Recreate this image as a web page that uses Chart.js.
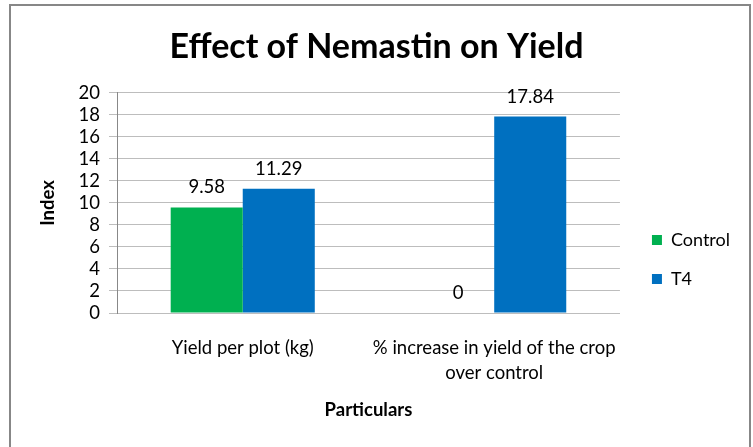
<!DOCTYPE html>
<html>
<head>
<meta charset="utf-8">
<script src="https://cdn.jsdelivr.net/npm/chart.js@4/dist/chart.umd.min.js"></script>
<style>
  html, body { margin: 0; padding: 0; background: #fff; }
  #wrap { width: 753px; height: 447px; }
</style>
</head>
<body>
<div id="wrap"><canvas id="chart" width="753" height="447"></canvas></div>
<script>
const categories = [
  "Yield per plot (kg)",
  ["% increase in yield of the crop", "over control"],
];
const controlValues = [9.58, 0];
const t4Values = [11.29, 17.84];
const yTicks = [0, 20, 2]; // min, max, step

const FONT = "Lato, 'Open Sans', sans-serif";
const TXT = 18.5;

// outer frame like the Excel chart border
const framePlugin = {
  id: "frame",
  afterDraw(chart) {
    const ctx = chart.ctx;
    ctx.save();
    ctx.strokeStyle = "#878787";
    ctx.lineWidth = 2;
    ctx.strokeRect(10, 5, 740, 460);
    ctx.restore();
  },
};

// value labels above each bar
const barLabels = {
  id: "barLabels",
  afterDatasetsDraw(chart) {
    const ctx = chart.ctx;
    ctx.save();
    ctx.font = TXT + "px " + FONT;
    ctx.fillStyle = "#000";
    ctx.textAlign = "center";
    ctx.textBaseline = "middle";
    chart.data.datasets.forEach((ds, i) => {
      chart.getDatasetMeta(i).data.forEach((bar, j) => {
        ctx.fillText(String(ds.data[j]), bar.x, bar.y - 20);
      });
    });
    ctx.restore();
  },
};

// nudge legend and title so they sit where Excel put them
const boxNudge = {
  id: "boxNudge",
  afterLayout(chart) {
    const lg = chart.legend;
    lg.left += 11; lg.right += 11;
    lg.top += 36; lg.bottom += 36;
    const tb = chart.titleBlock;
    tb.left += 12; tb.right += 12;
  },
};

new Chart(document.getElementById("chart"), {
  type: "bar",
  data: {
    labels: categories,
    datasets: [
      { label: "Control", data: controlValues, backgroundColor: "#00B050" },
      { label: "T4", data: t4Values, backgroundColor: "#0070C0" },
    ],
  },
  plugins: [framePlugin, barLabels, boxNudge],
  options: {
    responsive: false,
    animation: false,
    layout: { padding: { right: 24 } },
    datasets: { bar: { categoryPercentage: 0.573, barPercentage: 1 } },
    plugins: {
      tooltip: { enabled: false },
      title: {
        display: true,
        text: "Effect of Nemastin on Yield",
        color: "#000",
        font: { family: FONT, size: 34, weight: "bold" },
        padding: { top: 27, bottom: 25 },
      },
      legend: {
        position: "right",
        labels: {
          boxWidth: 10,
          boxHeight: 10,
          padding: 21,
          color: "#000",
          font: { family: FONT, size: 18 },
        },
      },
    },
    scales: {
      x: {
        grid: { display: false },
        border: { color: "#bdbdbd", width: 1 },
        ticks: {
          color: "#000",
          font: { family: FONT, size: TXT, lineHeight: 1.35 },
          maxRotation: 0,
          padding: 15,
        },
        title: {
          display: true,
          text: "Particulars",
          color: "#000",
          font: { family: FONT, size: TXT, weight: "bold" },
          padding: { top: 0, bottom: 26 },
        },
        afterFit(scale) { scale.height = 134; },
      },
      y: {
        min: yTicks[0],
        max: yTicks[1],
        ticks: {
          stepSize: yTicks[2],
          autoSkip: false,
          color: "#000",
          font: { family: FONT, size: TXT },
          padding: 9,
        },
        grid: { color: "#bdbdbd", tickLength: 8 },
        border: { color: "#888", width: 1 },
        title: {
          display: true,
          text: "Index",
          color: "#000",
          font: { family: FONT, size: TXT, weight: "bold" },
          padding: { top: 37, bottom: 0 },
        },
        afterFit(scale) { scale.width = 117; },
      },
    },
  },
});
</script>
</body>
</html>
